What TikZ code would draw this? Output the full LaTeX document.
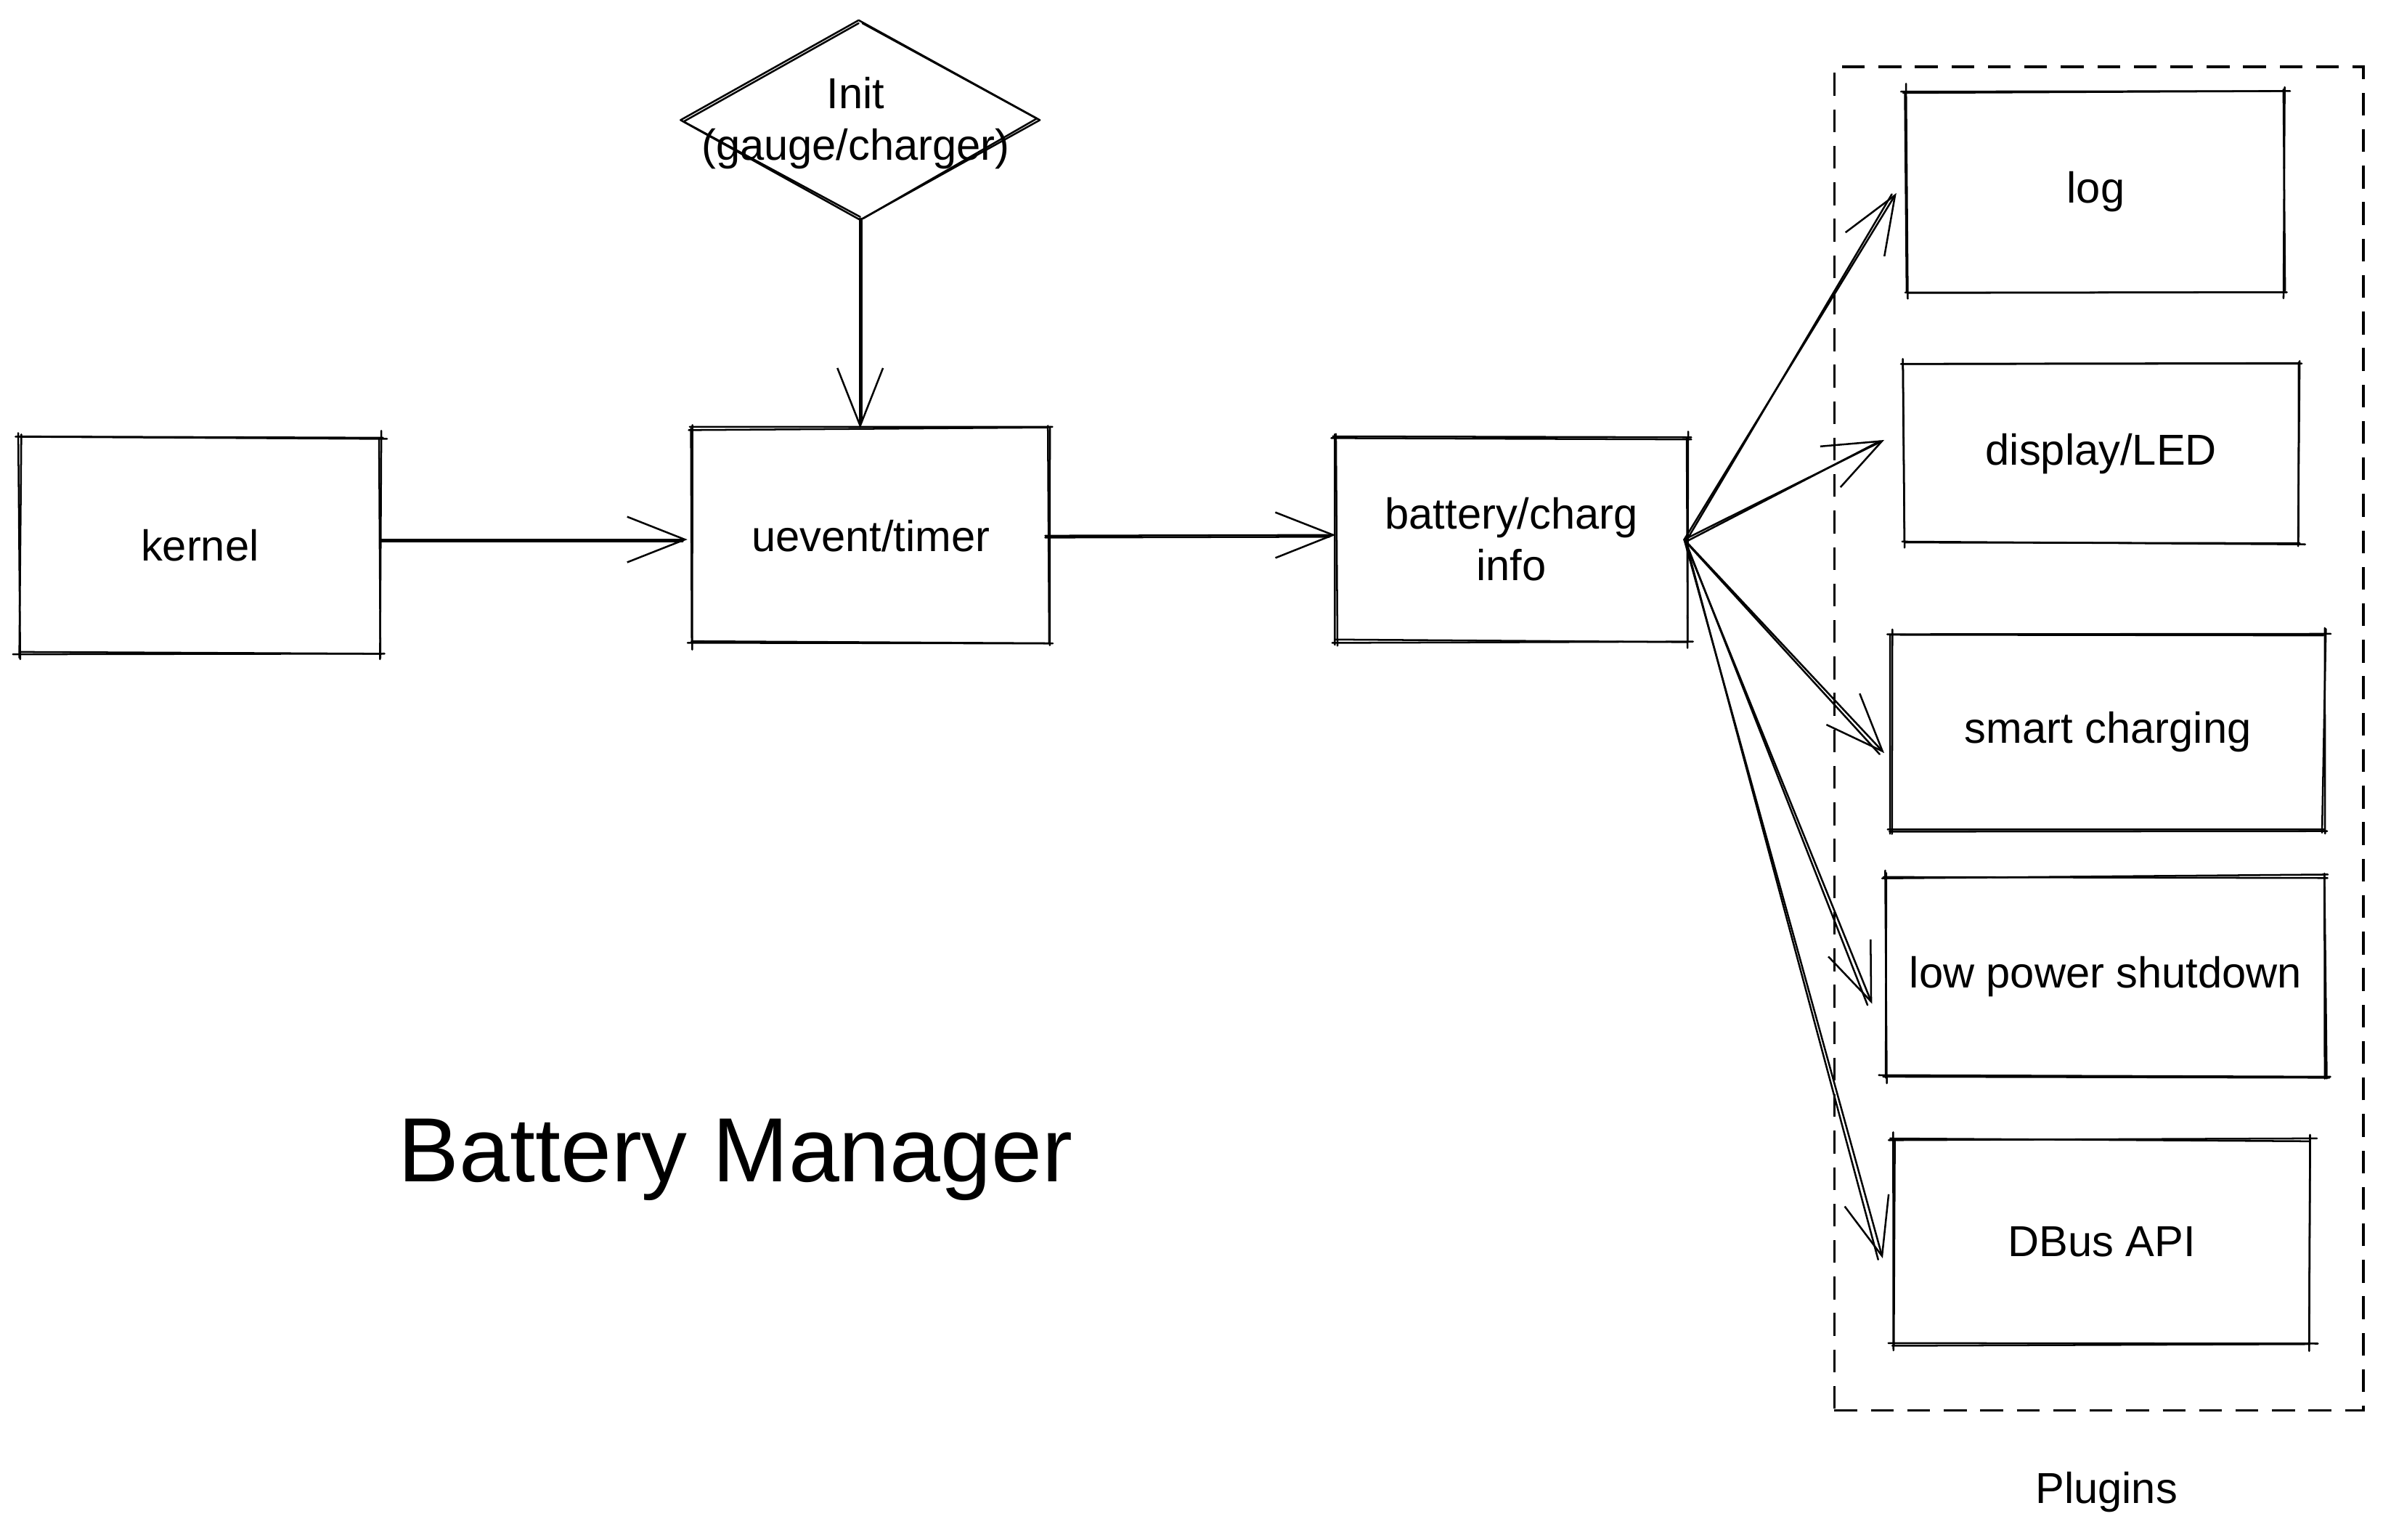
\documentclass[tikz,border=0pt]{standalone}
\usepackage{fontspec}
\setmainfont{Liberation Sans}
\usetikzlibrary{arrows.meta,calc,shapes.geometric}
\newcommand\skrect[1]{%
 \draw[sk] ([shift={(-3+2*rand,rand)}]#1.north west) -- ([shift={(3+2*rand,rand)}]#1.north east);
 \draw[sk] ([shift={(-1+2*rand,1.5*rand)}]#1.north west) -- ([shift={(1+2*rand,1.5*rand)}]#1.north east);
 \draw[sk] ([shift={(rand,-3+2*rand)}]#1.north east) -- ([shift={(rand,3+2*rand)}]#1.south east);
 \draw[sk] ([shift={(1.5*rand,-1+2*rand)}]#1.north east) -- ([shift={(1.5*rand,1+2*rand)}]#1.south east);
 \draw[sk] ([shift={(3+2*rand,rand)}]#1.south east) -- ([shift={(-3+2*rand,rand)}]#1.south west);
 \draw[sk] ([shift={(1+2*rand,1.5*rand)}]#1.south east) -- ([shift={(-1+2*rand,1.5*rand)}]#1.south west);
 \draw[sk] ([shift={(rand,3+2*rand)}]#1.south west) -- ([shift={(rand,-3+2*rand)}]#1.north west);
 \draw[sk] ([shift={(1.5*rand,1+2*rand)}]#1.south west) -- ([shift={(1.5*rand,-1+2*rand)}]#1.north west);
}
\begin{document}
\begin{tikzpicture}[x=1pt,y=-1pt,
  sk/.style={line width=1.2pt, line cap=round, line join=round},
  lbl/.style={font=\fontsize{28.5}{34}\selectfont, align=center},
  box/.style={lbl, draw=none, inner sep=0pt},
  arr/.style={sk, -{Straight Barb[length=38pt,width=30pt,line width=1.2pt]}},
]
\pgfmathsetseed{7}
\useasboundingbox[fill=white] (0,0) rectangle (1568,1013);

% main boxes
\node[box, minimum width=237pt, minimum height=142pt] (kernel) at (131.5,359) {kernel};
\node[box, minimum width=235pt, minimum height=141pt] (uevent) at (573,352.5) {uevent/timer};
\node[box, minimum width=231pt, minimum height=134pt] (bat) at (994.5,355) {battery/charg\\info};
\skrect{kernel}
\skrect{uevent}
\skrect{bat}

% init diamond
\node[diamond, draw=none, minimum width=234pt, minimum height=129pt, inner sep=0pt] (init) at (566,79) {};
\node[lbl] (inittext) at (563,81) {Init\\(gauge/charger)};
\draw[sk] ([shift={(-1,-1)}]init.north) -- ([shift={(1,0)}]init.east) -- ([shift={(0,1)}]init.south) -- ([shift={(-1,0)}]init.west) -- cycle;
\draw[sk] ([shift={(1.5,1)}]init.north) -- ([shift={(-1,-1)}]init.east) -- ([shift={(2,0)}]init.south);
\draw[sk] ([shift={(0,-1)}]init.south) -- ([shift={(1,1)}]init.west) -- ([shift={(-1,1)}]init.north);

% plugins
\node[draw, dash pattern=on 15pt off 9pt, line width=1.6pt, minimum width=348pt, minimum height=884pt, inner sep=0pt] (plugins) at (1381,486) {};
\node[lbl] (pluginslabel) at (1386,982) {Plugins};

\node[box, minimum width=248pt, minimum height=132pt] (log) at (1379,126) {log};
\node[box, minimum width=259pt, minimum height=117pt] (disp) at (1382.5,298.5) {display/LED};
\node[box, minimum width=284pt, minimum height=129pt] (smart) at (1387,481.5) {smart charging};
\node[box, minimum width=289pt, minimum height=131pt] (low) at (1385.5,642.5) {low power shutdown};
\node[box, minimum width=274pt, minimum height=134pt] (dbus) at (1383,817) {DBus API};
\skrect{log}
\skrect{disp}
\skrect{smart}
\skrect{low}
\skrect{dbus}

% title
\node (title) at (484,763) {\fontsize{60}{72}\selectfont Battery Manager};

% connectors
\draw[arr] ([shift={(0,-4)}]kernel.east) -- ([shift={(-3,2.5)}]uevent.west);
\draw[sk] ([shift={(0,-2.8)}]kernel.east) -- ([shift={(-6,3.7)}]uevent.west);
\draw[arr] ([shift={(-3,0)}]uevent.east) -- ([shift={(0,-3)}]bat.west);
\draw[sk] ([shift={(-3,1.2)}]uevent.east) -- ([shift={(-4,-1.8)}]bat.west);
\draw[arr] (init.south) -- (init.south |- uevent.north);
\draw[sk] ($(init.south)+(1.2,0)$) -- ($(init.south |- uevent.north)+(1.2,-4)$);

\foreach \t/\dx/\dy in {log/-7/1, disp/-13/-9, smart/-5/14, low/-9/18, dbus/-7/11}{
  \draw[arr] ([xshift=-2]bat.east) -- ([shift={(\dx,\dy)}]\t.west);
  \draw[sk] ([shift={(-1,1.5)}]bat.east) -- ([shift={(\dx-3,\dy+0.8)}]\t.west);
}
\end{tikzpicture}
\end{document}
